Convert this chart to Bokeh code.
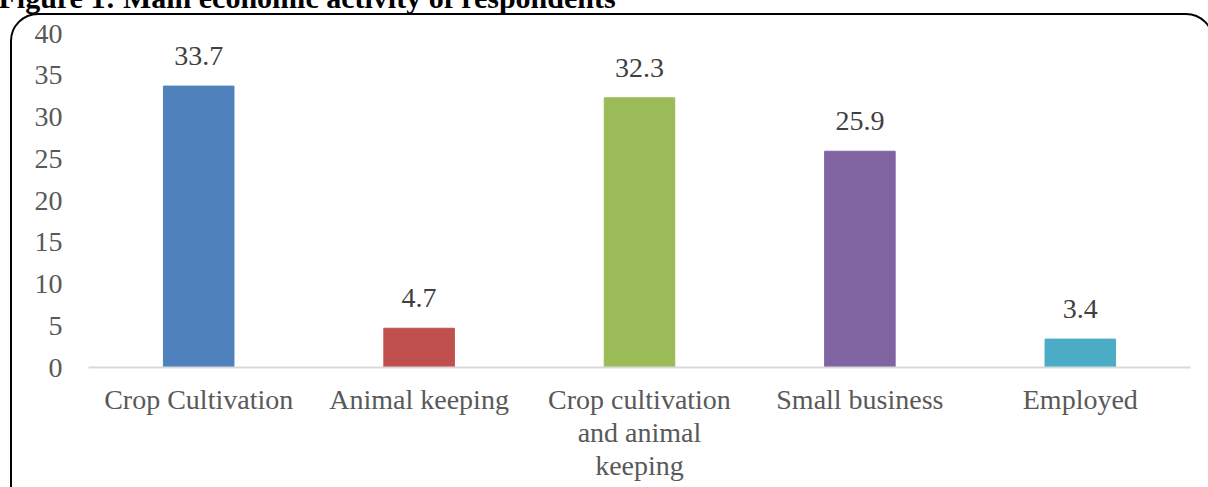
from bokeh.plotting import figure
from bokeh.models import ColumnDataSource, LabelSet, Label, Range1d, FixedTicker, InlineStyleSheet
from bokeh.embed import file_html
from bokeh.resources import INLINE

categories = ["Crop Cultivation", "Animal keeping", "Crop cultivation\nand animal\nkeeping", "Small business", "Employed"]
values = [33.7, 4.7, 32.3, 25.9, 3.4]
colors = ["#4F81BD", "#C0504D", "#9BBB59", "#8064A2", "#4BACC6"]
value_labels = ["33.7", "4.7", "32.3", "25.9", "3.4"]
y_ticks = [0, 5, 10, 15, 20, 25, 30, 35, 40]
title_text = "Figure 1: Main economic activity of respondents"

FONT = "Liberation Serif"

src = ColumnDataSource(dict(cat=categories, val=values, col=colors, lab=value_labels))

p = figure(width=1208, height=487, x_range=categories, output_backend="svg",
           toolbar_location=None, min_border_left=88, min_border_right=18,
           min_border_top=27, min_border_bottom=120)
p.y_range = Range1d(0, 40)
p.vbar(x="cat", top="val", width=0.32, color="col", source=src)

p.add_layout(LabelSet(x="cat", y="val", text="lab", source=src, y_offset=21,
                      text_align="center", text_baseline="alphabetic",
                      text_font=FONT, text_font_size="28px", text_color="#404040"))

p.outline_line_color = None
p.xgrid.grid_line_color = None
p.ygrid.grid_line_color = None
p.background_fill_color = None
p.border_fill_color = "white"

p.yaxis.ticker = FixedTicker(ticks=y_ticks)
p.yaxis.axis_line_color = None
p.yaxis.major_tick_line_color = None
p.yaxis.minor_tick_line_color = None
p.yaxis.major_tick_out = 0
p.yaxis.major_tick_in = 0
p.yaxis.major_label_standoff = 26
p.yaxis.major_label_text_font = FONT
p.yaxis.major_label_text_font_size = "28px"
p.yaxis.major_label_text_color = "#595959"

p.xaxis.axis_line_color = "#D9D9D9"
p.xaxis.axis_line_width = 2
p.xaxis.major_tick_line_color = None
p.xaxis.minor_tick_line_color = None
p.xaxis.major_tick_out = 0
p.xaxis.major_tick_in = 0
p.xaxis.major_label_standoff = 16
p.xaxis.major_label_text_font = FONT
p.xaxis.major_label_text_font_size = "28px"
p.xaxis.major_label_text_color = "#595959"
p.xaxis.major_label_text_line_height = 1.07

p.add_layout(Label(x=-2, y=-3, x_units="canvas", y_units="canvas", text=title_text,
                   text_font=FONT, text_font_style="bold", text_font_size="30px",
                   text_line_height=0.8,
                   text_baseline="alphabetic", text_color="black"), "above")

p.stylesheets.append(InlineStyleSheet(css="""
:host { position: relative; }
:host::after {
  content: "";
  position: absolute;
  left: 10px; top: 13px; width: 1204px; height: 520px;
  border: 2px solid black; border-radius: 28px;
  box-sizing: border-box; pointer-events: none; z-index: 10;
}
"""))

open("out.html", "w").write(file_html(p, INLINE))
